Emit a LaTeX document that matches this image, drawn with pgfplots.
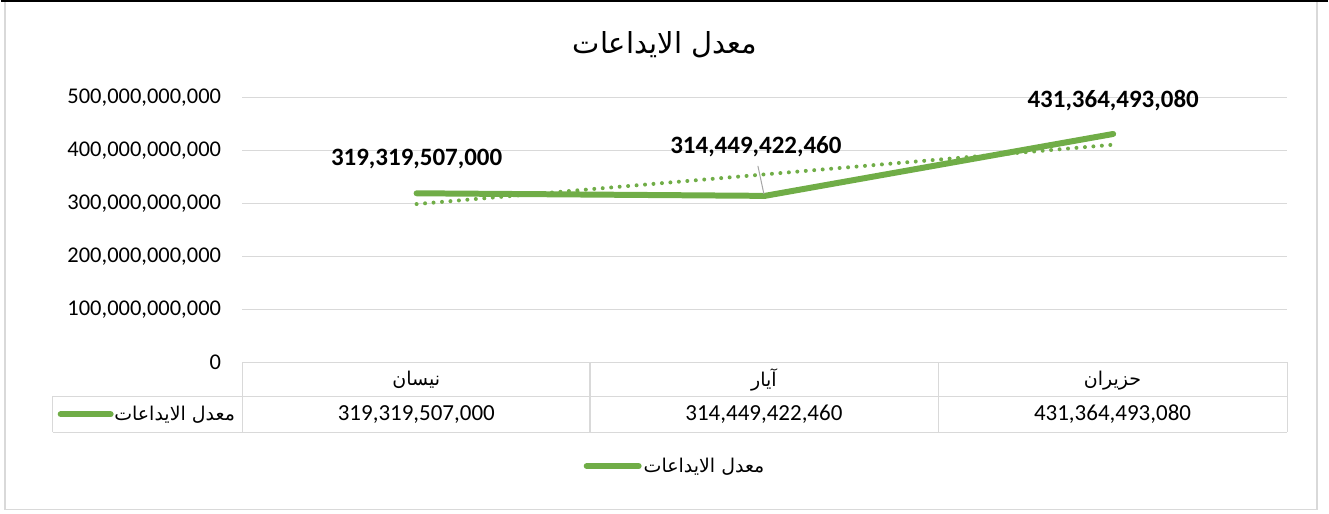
\documentclass[border=0pt]{standalone}
\usepackage{pgfplots}
\pgfplotsset{compat=1.18}
\usepackage{fontspec}
\setmainfont{Carlito}
\newfontfamily\arabicfont[Script=Arabic]{DejaVu Sans}
\TeXXeTstate=1
\definecolor{xgreen}{HTML}{70AD47}
\definecolor{xgrid}{HTML}{D9D9D9}
\newcommand{\ar}[1]{{\arabicfont\beginR #1\endR}}
\begin{document}
\begin{tikzpicture}[x=1pt,y=1pt]
\path (0,0) rectangle (1329,513);
\draw[xgrid, line width=1.5pt] (4.5,3.5) rectangle (1317.5,513);
\draw[black, line width=1.5pt] (0,512.5) -- (1329,512.5);
\node at (665,469) {\fontsize{29}{32}\selectfont\ar{معدل الايداعات}};
\begin{axis}[
  at={(242pt,151pt)}, anchor=south west,
  scale only axis, width=1046pt, height=265pt,
  xmin=-0.5, xmax=2.5, ymin=0, ymax=500000000000,
  axis line style={draw=none}, major tick length=0pt,
  xtick=\empty, scaled y ticks=false,
  ytick={0,100000000000,200000000000,300000000000,400000000000,500000000000},
  yticklabels={{0},{100,000,000,000},{200,000,000,000},{300,000,000,000},{400,000,000,000},{500,000,000,000}},
  yticklabel style={font=\fontsize{22.5}{26}\selectfont, xshift=-18pt},
  ymajorgrids, grid style={xgrid, line width=1.5pt},
  clip=false,
  legend style={at={(0.414,-0.392)}, anchor=center, draw=none, fill=none,
     font=\fontsize{19}{22}\selectfont},
  legend image code/.code={\draw[xgreen, line width=6pt, line cap=round] (0pt,0pt) -- (52pt,0pt);},
]
\addplot[xgreen, line width=4pt, line cap=round, dash pattern=on 0pt off 8.5pt, forget plot]
  coordinates {(0,299021981140) (1,355044474180) (2,411066967220)};
\addplot[xgreen, line width=6pt, line cap=round, line join=round]
  coordinates {(0,319319507000) (1,314449422460) (2,431364493080)};
\addlegendentry{\ar{معدل الايداعات}}
\node[font=\fontsize{25}{28}\selectfont\bfseries] at (axis cs:0,319319507000) [yshift=34pt] {319,319,507,000};
\node[font=\fontsize{25}{28}\selectfont\bfseries] at (axis cs:1,314449422460) [xshift=-9pt, yshift=49pt] {314,449,422,460};
\node[font=\fontsize{25}{28}\selectfont\bfseries] at (axis cs:2,431364493080) [yshift=33pt] {431,364,493,080};
\draw[gray!70, line width=1pt] (axis cs:1,314449422460) ++(-1pt,2pt) -- ++(-6pt,28pt);
\end{axis}
% data table
\begin{scope}[xgrid, line width=1.5pt]
\draw (242,151) -- (1288,151);
\draw (52,117) -- (1288,117);
\draw (52,81) -- (1288,81);
\draw (52,117) -- (52,81);
\foreach \xx in {242,590,939,1288} \draw (\xx,151) -- (\xx,81);
\end{scope}
\node at (416,133) {\fontsize{19}{22}\selectfont\ar{نيسان}};
\node at (764,133) {\fontsize{19}{22}\selectfont\ar{آيار}};
\node at (1113,133) {\fontsize{19}{22}\selectfont\ar{حزيران}};
\node at (416,99) {\fontsize{23}{26}\selectfont 319,319,507,000};
\node at (764,99) {\fontsize{23}{26}\selectfont 314,449,422,460};
\node at (1113,99) {\fontsize{23}{26}\selectfont 431,364,493,080};
\draw[xgreen, line width=6pt, line cap=round] (60,99) -- (110,99);
\node[anchor=east] at (238,99) {\fontsize{19}{22}\selectfont\ar{معدل الايداعات}};
\end{tikzpicture}
\end{document}
